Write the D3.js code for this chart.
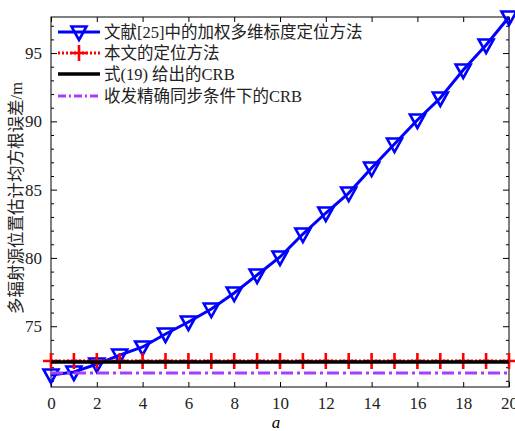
<!DOCTYPE html>
<html>
<head>
<meta charset="utf-8">
<script src="https://cdn.jsdelivr.net/npm/d3@7"></script>
<style>
body { margin: 0; background: #fff; }
text { font-family: "Liberation Serif", "Noto Sans CJK SC", serif; }
</style>
</head>
<body>
<svg width="515" height="431"></svg>
<script>
// data
var aValues = [0,1,2,3,4,5,6,7,8,9,10,11,12,13,14,15,16,17,18,19,20];
var mdsRmse = [71.43,71.65,72.23,72.89,73.48,74.43,75.31,76.26,77.43,78.75,80.07,81.75,83.29,84.75,86.58,88.34,90.1,91.71,93.76,95.59,97.64];
var oursRmse = [72.45,72.45,72.45,72.45,72.45,72.45,72.45,72.45,72.45,72.45,72.45,72.45,72.45,72.45,72.45,72.45,72.45,72.45,72.45,72.45,72.45];
var crbEq19 = [72.38,72.38,72.38,72.38,72.38,72.38,72.38,72.38,72.38,72.38,72.38,72.38,72.38,72.38,72.38,72.38,72.38,72.38,72.38,72.38,72.38];
var crbSync = [71.57,71.57,71.57,71.57,71.57,71.57,71.57,71.57,71.57,71.57,71.57,71.57,71.57,71.57,71.57,71.57,71.57,71.57,71.57,71.57,71.57];
var legendNames = ["文献[25]中的加权多维标度定位方法", "本文的定位方法", "式(19) 给出的CRB", "收发精确同步条件下的CRB"];
var xTicks = [0,2,4,6,8,10,12,14,16,18,20];
var yTicks = [75,80,85,90,95];

var svg = d3.select("svg");
var pLeft = 51, pRight = 509, pTop = 17, pBottom = 387;

var x = d3.scaleLinear().domain([0, 20]).range([pLeft, pRight]);
var y = d3.scaleLinear().domain([70.55, 97.64]).range([pBottom, pTop]);

var tri = "M-7.5,-5.5L7.5,-5.5L0,8Z";
var plus = "M-8,0L8,0M0,-8L0,8";

function lineOf(vals) {
  return d3.line().x(function(d, i) { return x(aValues[i]); }).y(function(d) { return y(d); })(vals);
}

// frame + axes
var g = svg.append("g");
g.append("rect").attr("x", pLeft).attr("y", pTop).attr("width", pRight - pLeft).attr("height", pBottom - pTop)
  .style("fill", "none").style("stroke", "black").style("stroke-width", 1);

g.append("g").attr("transform", "translate(0," + pBottom + ")")
  .call(d3.axisBottom(x).tickValues(xTicks).tickSizeInner(-5).tickSizeOuter(0).tickPadding(10));
g.append("g").attr("transform", "translate(0," + pTop + ")")
  .call(d3.axisTop(x).tickValues(xTicks).tickSizeInner(-5).tickSizeOuter(0).tickFormat(""));
g.append("g").attr("transform", "translate(" + pLeft + ",0)")
  .call(d3.axisLeft(y).tickValues(yTicks).tickSizeInner(-6).tickSizeOuter(0).tickPadding(9));
g.append("g").attr("transform", "translate(" + pRight + ",0)")
  .call(d3.axisRight(y).tickValues(yTicks).tickSizeInner(-6).tickSizeOuter(0).tickFormat(""));
var minor = d3.range(71, 98).filter(function(v) { return v % 5 != 0; });
g.append("g").attr("transform", "translate(" + pLeft + ",0)")
  .call(d3.axisLeft(y).tickValues(minor).tickSizeInner(-3).tickSizeOuter(0).tickFormat(""));
g.append("g").attr("transform", "translate(" + pRight + ",0)")
  .call(d3.axisRight(y).tickValues(minor).tickSizeInner(-3).tickSizeOuter(0).tickFormat(""));
g.selectAll(".domain").remove();
g.selectAll(".tick line").style("stroke", "black");
g.selectAll(".tick text").style("font-size", "17px").style("fill", "#222").style("font-family", "Liberation Serif");

// blue: weighted MDS
svg.append("path").attr("d", lineOf(mdsRmse)).style("fill", "none").style("stroke", "#0000ff").style("stroke-width", 3);
svg.selectAll(".tri").data(mdsRmse).enter().append("path").attr("class", "tri")
  .attr("d", tri)
  .attr("transform", function(d, i) { return "translate(" + x(aValues[i]) + "," + y(d) + ")"; })
  .style("fill", "none").style("stroke", "#0000ff").style("stroke-width", 2.6);

// red: proposed
svg.append("path").attr("d", lineOf(oursRmse)).style("fill", "none").style("stroke", "#ff0000").style("stroke-width", 3)
  .style("stroke-dasharray", "2,2");
svg.selectAll(".plus").data(oursRmse).enter().append("path").attr("class", "plus")
  .attr("d", plus)
  .attr("transform", function(d, i) { return "translate(" + x(aValues[i]) + "," + y(d) + ")"; })
  .style("fill", "none").style("stroke", "#ff0000").style("stroke-width", 2.6);

// black: CRB eq (19)
svg.append("path").attr("d", lineOf(crbEq19)).style("fill", "none").style("stroke", "black").style("stroke-width", 3.5);

// purple: sync CRB
svg.append("path").attr("d", lineOf(crbSync)).style("fill", "none").style("stroke", "#a83dff").style("stroke-width", 3)
  .style("stroke-dasharray", "12,4,3,4");

// legend
var leg = svg.append("g");
var legY = [32, 53, 74, 96];
var styles = [
  {c: "#0000ff", w: 3, dash: null, m: tri},
  {c: "#ff0000", w: 3, dash: "2,2", m: plus},
  {c: "black", w: 3.5, dash: null, m: null},
  {c: "#a83dff", w: 3, dash: "8,3,2,3", m: null}
];
legendNames.forEach(function(name, i) {
  var s = styles[i];
  var ln = leg.append("line").attr("x1", 58).attr("x2", 100).attr("y1", legY[i]).attr("y2", legY[i])
    .style("stroke", s.c).style("stroke-width", s.w);
  if (s.dash) ln.style("stroke-dasharray", s.dash);
  if (s.m) leg.append("path").attr("d", s.m).attr("transform", "translate(79," + legY[i] + ")")
    .style("fill", "none").style("stroke", s.c).style("stroke-width", 2.6);
  leg.append("text").attr("x", 104).attr("y", legY[i] + 6).text(name)
    .style("font-size", "16.5px").style("fill", "#222");
});

// axis labels
svg.append("text").attr("x", 276).attr("y", 428).text("a")
  .style("font-size", "17px").style("font-style", "italic").style("text-anchor", "middle");
svg.append("text").attr("transform", "translate(22,198) rotate(-90)").text("多辐射源位置估计均方根误差/m")
  .style("font-size", "16.5px").style("text-anchor", "middle").style("fill", "#222");
</script>
</body>
</html>
